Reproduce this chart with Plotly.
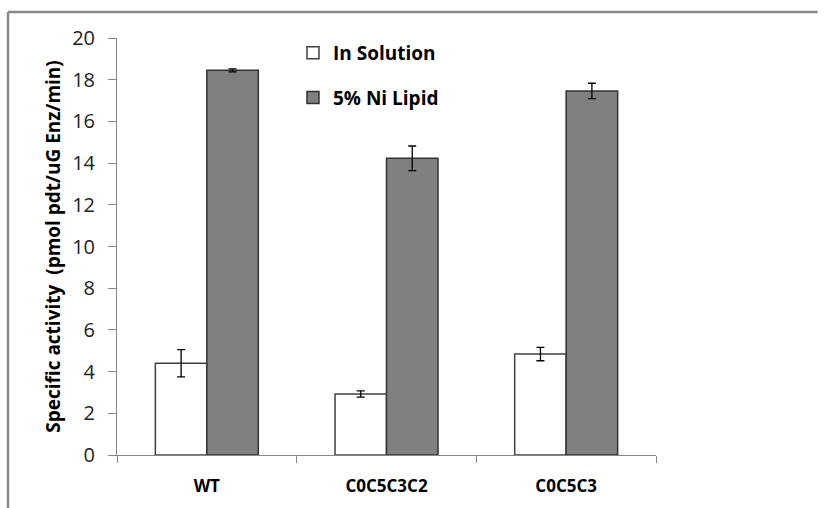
import plotly.graph_objects as go

# Specific activity of each construct, free in solution vs. bound to 5% Ni lipid
constructs = ["WT", "C0C5C3C2", "C0C5C3"]
solution_activity = [4.40, 2.93, 4.84]
solution_err = [0.65, 0.15, 0.32]
lipid_activity = [18.45, 14.23, 17.46]
lipid_err = [0.07, 0.59, 0.37]
y_ticks = [0, 2, 4, 6, 8, 10, 12, 14, 16, 18, 20]

FONT = "Open Sans"
AXIS_GREY = "#868686"
FRAME_GREY = "#888888"

fig = go.Figure()
fig.add_trace(go.Bar(
    name="In Solution",
    x=constructs,
    y=solution_activity,
    marker=dict(color="white", line=dict(color="#404040", width=1.5)),
    error_y=dict(type="data", array=solution_err, color="black", thickness=1.3, width=4),
    legendgroup="a",
))
fig.add_trace(go.Bar(
    name="5% Ni Lipid",
    x=constructs,
    y=lipid_activity,
    marker=dict(color="#808080", line=dict(color="#333333", width=1.5)),
    error_y=dict(type="data", array=lipid_err, color="black", thickness=1.3, width=4),
    legendgroup="b",
))

# outer chart frame: only its top and left edges fall inside the page
frame = [
    dict(type="line", xref="paper", yref="paper",
         x0=-0.2022, x1=1.3, y0=1.0624, y1=1.0624,
         line=dict(color=FRAME_GREY, width=2.5), layer="above"),
    dict(type="line", xref="paper", yref="paper",
         x0=-0.2022, x1=-0.2022, y0=-0.2, y1=1.0624,
         line=dict(color=FRAME_GREY, width=2.5), layer="above"),
]

fig.update_layout(
    width=833,
    height=508,
    margin=dict(l=117, r=177, t=38, b=53, autoexpand=False),
    paper_bgcolor="white",
    plot_bgcolor="white",
    barmode="group",
    bargap=0.427,
    bargroupgap=0,
    font=dict(family=FONT, color="black"),
    showlegend=True,
    legend=dict(
        x=0.3265, y=1.01, xanchor="left", yanchor="top",
        font=dict(family=FONT, size=19, color="black", weight="bold"),
        bgcolor="rgba(0,0,0,0)",
        traceorder="grouped",
        tracegroupgap=17,
    ),
    shapes=frame,
)

fig.update_xaxes(
    showline=True, linecolor=AXIS_GREY, linewidth=1,
    ticks="outside", ticklen=7, tickcolor=AXIS_GREY,
    tickson="boundaries",
    showgrid=False,
    automargin=False,
    tickfont=dict(family=FONT, size=17, color="black", weight="bold"),
    ticklabelstandoff=16,
)
fig.update_yaxes(
    range=[0, 20],
    tickvals=y_ticks,
    showline=True, linecolor=AXIS_GREY, linewidth=1,
    ticks="outside", ticklen=8, tickcolor=AXIS_GREY,
    showgrid=False, zeroline=False,
    automargin=False,
    tickfont=dict(family=FONT, size=20, color="#222222"),
    ticklabelstandoff=9,
    title=dict(
        text="Specific activity  (pmol pdt/uG Enz/min)",
        font=dict(family=FONT, size=19, color="black", weight="bold"),
        standoff=6,
    ),
)

fig.write_html("out.html")
